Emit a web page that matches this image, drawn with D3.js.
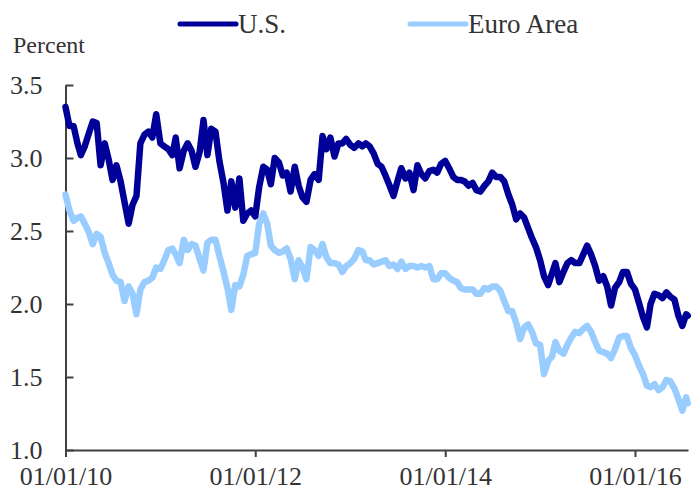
<!DOCTYPE HTML>
<html lang="en">
  <head>
    <meta http-equiv="content-type" content="text/html; charset=utf-8"/>
    <title>10-Year Government Bond Yields: U.S. vs. Euro Area</title>
    <script type="text/javascript" src="https://d3js.org/d3.v7.min.js"></script>
  </head>

  <!-- ============================================= -->
  <!-- CSS                                           -->
  <!-- ============================================= -->
  <style>
    body { margin: 0; background: #fff; }
    svg, svg text { font-family: "Liberation Serif", "DejaVu Serif", "Times New Roman", Times, serif; }
    svg text { fill: #333; }
    .axis path, .axis line { stroke: #404040; stroke-width: 2px; }
    .line { fill: none; stroke-width: 6.5px; stroke-linejoin: round; stroke-linecap: round; }
  </style>

  <body>
    <div id="chart"></div>
    <script>
      // ============================================= //
      // Data (semi-monthly readings, percent)         //
      // ============================================= //
      var dates = [
        "2010-01-01","2010-01-16","2010-02-01","2010-02-16","2010-03-01","2010-03-16","2010-04-01","2010-04-16","2010-05-01","2010-05-16","2010-06-01","2010-06-16",
        "2010-07-01","2010-07-16","2010-08-01","2010-08-16","2010-09-01","2010-09-16","2010-10-01","2010-10-16","2010-11-01","2010-11-16","2010-12-01","2010-12-16",
        "2011-01-01","2011-01-16","2011-02-01","2011-02-16","2011-03-01","2011-03-16","2011-04-01","2011-04-16","2011-05-01","2011-05-16","2011-06-01","2011-06-16",
        "2011-07-01","2011-07-16","2011-08-01","2011-08-16","2011-09-01","2011-09-16","2011-10-01","2011-10-16","2011-11-01","2011-11-16","2011-12-01","2011-12-16",
        "2012-01-01","2012-01-16","2012-02-01","2012-02-16","2012-03-01","2012-03-16","2012-04-01","2012-04-16","2012-05-01","2012-05-16","2012-06-01","2012-06-16",
        "2012-07-01","2012-07-16","2012-08-01","2012-08-16","2012-09-01","2012-09-16","2012-10-01","2012-10-16","2012-11-01","2012-11-16","2012-12-01","2012-12-16",
        "2013-01-01","2013-01-16","2013-02-01","2013-02-16","2013-03-01","2013-03-16","2013-04-01","2013-04-16","2013-05-01","2013-05-16","2013-06-01","2013-06-16",
        "2013-07-01","2013-07-16","2013-08-01","2013-08-16","2013-09-01","2013-09-16","2013-10-01","2013-10-16","2013-11-01","2013-11-16","2013-12-01","2013-12-16",
        "2014-01-01","2014-01-16","2014-02-01","2014-02-16","2014-03-01","2014-03-16","2014-04-01","2014-04-16","2014-05-01","2014-05-16","2014-06-01","2014-06-16",
        "2014-07-01","2014-07-16","2014-08-01","2014-08-16","2014-09-01","2014-09-16","2014-10-01","2014-10-16","2014-11-01","2014-11-16","2014-12-01","2014-12-16",
        "2015-01-01","2015-01-16","2015-02-01","2015-02-16","2015-03-01","2015-03-16","2015-04-01","2015-04-16","2015-05-01","2015-05-16","2015-06-01","2015-06-16",
        "2015-07-01","2015-07-16","2015-08-01","2015-08-16","2015-09-01","2015-09-16","2015-10-01","2015-10-16","2015-11-01","2015-11-16","2015-12-01","2015-12-16",
        "2016-01-01","2016-01-16","2016-02-01","2016-02-16","2016-03-01","2016-03-16","2016-04-01","2016-04-16","2016-05-01","2016-05-16","2016-06-01","2016-06-16",
        "2016-07-01","2016-07-16","2016-07-22"
      ];

      var usYield = [
        3.35,3.22,3.22,3.10,3.02,3.08,3.17,3.25,3.24,2.95,3.10,2.99,2.85,2.95,2.84,2.70,2.55,2.68,2.74,3.10,3.16,3.18,3.14,3.30,
        3.10,3.08,3.06,3.02,3.14,2.93,3.05,3.10,3.05,2.94,3.04,3.26,3.02,3.20,3.18,2.98,2.83,2.64,2.84,2.66,2.86,2.57,2.62,2.64,
        2.60,2.80,2.94,2.92,2.82,3.00,2.97,2.88,2.90,2.77,2.94,2.81,2.73,2.70,2.85,2.89,2.85,3.15,3.06,3.14,3.01,3.10,3.10,3.13,
        3.09,3.07,3.10,3.08,3.10,3.08,3.03,2.96,2.94,2.88,2.81,2.74,2.84,2.93,2.86,2.90,2.78,2.95,2.89,2.86,2.91,2.92,2.90,2.96,
        2.98,2.93,2.87,2.85,2.85,2.84,2.81,2.83,2.78,2.77,2.81,2.84,2.90,2.87,2.87,2.84,2.75,2.68,2.58,2.62,2.59,2.52,2.45,2.39,
        2.30,2.19,2.13,2.21,2.28,2.15,2.22,2.28,2.30,2.28,2.28,2.34,2.40,2.34,2.26,2.16,2.19,2.12,1.99,2.11,2.15,2.22,2.22,2.14,
        2.10,2.01,1.91,1.84,2.00,2.07,2.06,2.04,2.08,2.05,2.03,1.92,1.85,1.93,1.92
      ];

      var euroYield = [
        2.75,2.64,2.57,2.59,2.60,2.55,2.49,2.41,2.48,2.46,2.35,2.28,2.20,2.16,2.15,2.02,2.12,2.07,1.93,2.10,2.15,2.16,2.18,2.25,
        2.24,2.30,2.37,2.38,2.34,2.28,2.44,2.37,2.41,2.40,2.31,2.23,2.42,2.44,2.44,2.33,2.22,2.11,1.96,2.13,2.12,2.20,2.33,2.34,
        2.35,2.55,2.62,2.55,2.40,2.37,2.35,2.36,2.38,2.31,2.17,2.30,2.25,2.17,2.39,2.37,2.33,2.41,2.32,2.28,2.28,2.27,2.22,2.26,
        2.28,2.31,2.37,2.36,2.30,2.30,2.27,2.28,2.29,2.30,2.26,2.27,2.24,2.29,2.24,2.26,2.26,2.25,2.26,2.25,2.26,2.17,2.17,2.21,
        2.21,2.18,2.16,2.15,2.11,2.10,2.10,2.10,2.07,2.07,2.11,2.10,2.12,2.12,2.09,2.02,1.95,1.95,1.87,1.76,1.84,1.86,1.81,1.73,
        1.72,1.52,1.61,1.64,1.74,1.68,1.66,1.72,1.77,1.81,1.80,1.83,1.85,1.81,1.74,1.68,1.67,1.66,1.63,1.69,1.77,1.78,1.78,1.70,
        1.65,1.58,1.52,1.44,1.43,1.45,1.41,1.43,1.48,1.47,1.42,1.35,1.27,1.36,1.32
      ];

      var seriesNames = ["U.S.", "Euro Area"];
      var seriesColors = ["#000099", "#99ccff"];
      var xTickDates = ["2010-01-01", "2012-01-01", "2014-01-01", "2016-01-01"];
      var yTicks = [1.0, 1.5, 2.0, 2.5, 3.0, 3.5];

      var fontStack = "'Liberation Serif', 'DejaVu Serif', 'Times New Roman', Times, serif";

      // ============================================= //
      // Scales                                        //
      // ============================================= //
      var width = 700, height = 495;
      var parseDate = d3.utcParse("%Y-%m-%d");

      var x = d3.scaleUtc()
        .domain([parseDate("2010-01-01"), parseDate("2016-07-23")])
        .range([65.5, 688]);

      var y = d3.scaleLinear()
        .domain([1, 3.5])
        .range([450, 85]);

      var svg = d3.select("#chart")
        .append("svg")
          .attr("width", width)
          .attr("height", height)
          .attr("font-family", fontStack);

      // ============================================= //
      // Axes                                          //
      // ============================================= //
      var xAxis = svg.append("g")
        .attr("class", "axis")
        .attr("transform", "translate(0,450)")
        .call(d3.axisBottom(x)
          .tickValues(xTickDates.map(parseDate))
          .tickFormat(d3.utcFormat("%m/%d/%y"))
          .tickSizeInner(7)
          .tickSizeOuter(0)
          .tickPadding(10));

      var yAxis = svg.append("g")
        .attr("class", "axis")
        .attr("transform", "translate(65.5,0)")
        .call(d3.axisLeft(y)
          .tickValues(yTicks)
          .tickFormat(d3.format(".1f"))
          .tickSizeInner(-8)
          .tickSizeOuter(0)
          .tickPadding(23));

      svg.selectAll(".axis").attr("font-family", fontStack);
      xAxis.selectAll("text").style("font-size", "26px").style("font-family", fontStack).attr("dy", "0.71em");
      yAxis.selectAll("text").style("font-size", "26px").style("font-family", fontStack);

      svg.append("text")
        .attr("x", 13)
        .attr("y", 53)
        .style("font-size", "24px")
        .style("font-family", fontStack)
        .text("Percent");

      // ============================================= //
      // Lines                                         //
      // ============================================= //
      var euroPoints = dates.map(function(d, i) { return { date: parseDate(d), value: euroYield[i] }; });
      var usPoints = dates.map(function(d, i) { return { date: parseDate(d), value: usYield[i] }; });

      var valueLine = d3.line()
        .x(function(d) { return x(d.date); })
        .y(function(d) { return y(d.value); });

      svg.append("path")
          .data([euroPoints])
        .attr("class", "line")
        .style("stroke", seriesColors[1])
        .attr("d", valueLine);

      svg.append("path")
          .data([usPoints])
        .attr("class", "line")
        .style("stroke", seriesColors[0])
        .attr("d", valueLine);

      // ============================================= //
      // Legend                                        //
      // ============================================= //
      var legendX = [180, 410];
      var legend = svg.selectAll(".legend")
          .data(seriesNames)
        .enter().append("g")
          .attr("class", "legend")
          .attr("transform", function(d, i) { return "translate(" + legendX[i] + ",24)"; });

      legend.append("line")
        .attr("x1", 0)
        .attr("x2", 56)
        .attr("stroke", function(d, i) { return seriesColors[i]; })
        .attr("stroke-width", 5)
        .attr("stroke-linecap", "round");

      legend.append("text")
        .attr("x", 58)
        .attr("y", 9)
        .style("font-size", "27px")
        .style("font-family", fontStack)
        .text(function(d) { return d; });
    </script>
  </body>
</html>
